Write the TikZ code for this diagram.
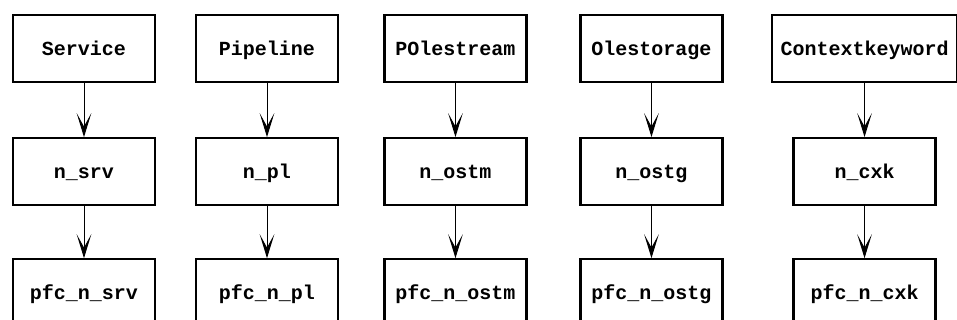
\documentclass[tikz,border=0pt]{standalone}
\usepackage{fontspec}
\setmonofont{Liberation Mono}
\usetikzlibrary{positioning,arrows.meta}
\tikzset{%
block/.style={draw,rectangle,line width=1.6pt,minimum width=106.5pt,minimum height=50.25pt,
  inner sep=0pt,text height=1.05em,text depth=0pt,
  font=\ttfamily\bfseries\fontsize{15}{17}\selectfont},
wideblock/.style={block,minimum width=138.75pt},
link/.style={line width=0.75pt,-{Stealth[length=18pt,width=11pt,inset=10pt]}}
}
\begin{document}
\begin{tikzpicture}[node distance=40.5pt]
    \useasboundingbox (0,0) rectangle (717.75pt,-240pt);

    \node[block] (srv)  at (63pt,-36.4pt)    {Service};
    \node[block] (pl)   at (200.25pt,-36.4pt) {Pipeline};
    \node[block] (ostm) at (341.6pt,-36.4pt) {POlestream};
    \node[block] (ostg) at (488.6pt,-36.4pt) {Olestorage};
    \node[wideblock] (cxk) at (648.4pt,-36.4pt) {Contextkeyword};

    \node[block] (nsrv)  [below=of srv]  {n\_srv};
    \node[block] (npl)   [below=of pl]   {n\_pl};
    \node[block] (nostm) [below=of ostm] {n\_ostm};
    \node[block] (nostg) [below=of ostg] {n\_ostg};
    \node[block] (ncxk)  [below=of cxk]  {n\_cxk};

    \node[block] (psrv)  [below=39pt of nsrv]  {pfc\_n\_srv};
    \node[block] (ppl)   [below=39pt of npl]   {pfc\_n\_pl};
    \node[block] (postm) [below=39pt of nostm] {pfc\_n\_ostm};
    \node[block] (postg) [below=39pt of nostg] {pfc\_n\_ostg};
    \node[block] (pcxk)  [below=39pt of ncxk]  {pfc\_n\_cxk};

    \foreach \a/\b/\c in {srv/nsrv/psrv,pl/npl/ppl,ostm/nostm/postm,ostg/nostg/postg,cxk/ncxk/pcxk}
      \path[link] (\a) edge (\b)
                  (\b) edge (\c);
  \end{tikzpicture}
\end{document}
